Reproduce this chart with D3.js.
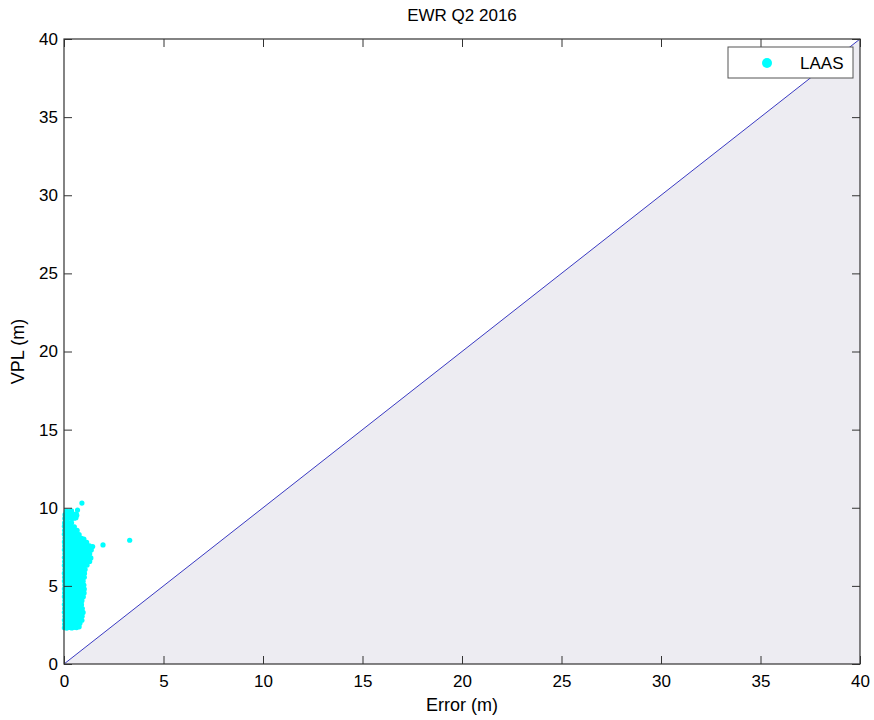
<!DOCTYPE html>
<html>
<head>
<meta charset="utf-8">
<script src="https://cdn.jsdelivr.net/npm/d3@7"></script>
<style>
  html, body { margin: 0; padding: 0; background: #fff; }
  svg { display: block; font-family: "Liberation Sans", Arial, sans-serif; }
</style>
</head>
<body>
<svg id="chart" width="874" height="720"></svg>
<script>
// Chart text
const title = "EWR Q2 2016";
const xLabel = "Error (m)";
const yLabel = "VPL (m)";
const seriesName = "LAAS";

// Axis domains and ticks
const xDomain = [0, 40];
const yDomain = [0, 40];
const xTicks = [0, 5, 10, 15, 20, 25, 30, 35, 40];
const yTicks = [0, 5, 10, 15, 20, 25, 30, 35, 40];

// LAAS samples: [vertical error (m), VPL (m)]
const laasPoints = [
  [0.02,2.32],[0.14,2.30],[0.27,2.34],[0.39,2.31],[0.51,2.35],[0.63,2.33],[0.76,2.38],
  [0.03,2.56],[0.16,2.54],[0.28,2.58],[0.40,2.55],[0.52,2.60],[0.64,2.57],[0.80,2.61],
  [0.02,2.81],[0.13,2.79],[0.25,2.83],[0.38,2.80],[0.50,2.84],[0.62,2.82],[0.75,2.85],[0.90,2.80],
  [0.04,3.06],[0.15,3.04],[0.27,3.08],[0.39,3.05],[0.51,3.09],[0.63,3.06],[0.76,3.10],[0.91,3.05],
  [0.02,3.31],[0.14,3.29],[0.26,3.33],[0.38,3.30],[0.50,3.34],[0.62,3.31],[0.74,3.35],[0.86,3.32],[0.96,3.30],
  [0.03,3.56],[0.16,3.54],[0.28,3.58],[0.40,3.55],[0.52,3.59],[0.64,3.56],[0.77,3.60],[0.92,3.55],
  [0.02,3.81],[0.14,3.79],[0.26,3.83],[0.38,3.80],[0.50,3.84],[0.62,3.81],[0.74,3.85],[0.88,3.80],
  [0.04,4.06],[0.15,4.04],[0.27,4.08],[0.39,4.05],[0.51,4.09],[0.63,4.06],[0.75,4.10],[0.90,4.05],
  [0.02,4.31],[0.14,4.29],[0.26,4.33],[0.38,4.30],[0.50,4.34],[0.62,4.31],[0.74,4.35],[0.86,4.32],[0.97,4.30],
  [0.03,4.56],[0.16,4.54],[0.28,4.58],[0.40,4.55],[0.52,4.59],[0.64,4.56],[0.77,4.60],[0.89,4.57],[1.01,4.55],
  [0.02,4.81],[0.14,4.79],[0.26,4.83],[0.38,4.80],[0.50,4.84],[0.62,4.81],[0.74,4.85],[0.87,4.82],[1.02,4.80],
  [0.04,5.06],[0.15,5.04],[0.27,5.08],[0.39,5.05],[0.51,5.09],[0.63,5.06],[0.75,5.10],[0.88,5.07],[1.00,5.05],
  [0.02,5.31],[0.14,5.29],[0.26,5.33],[0.38,5.30],[0.50,5.34],[0.62,5.31],[0.74,5.35],[0.86,5.32],[0.96,5.30],
  [0.03,5.56],[0.16,5.54],[0.28,5.58],[0.40,5.55],[0.52,5.59],[0.64,5.56],[0.77,5.60],[0.89,5.57],[1.02,5.55],
  [0.02,5.81],[0.14,5.79],[0.26,5.83],[0.38,5.80],[0.50,5.84],[0.62,5.81],[0.74,5.85],[0.87,5.82],[1.03,5.80],
  [0.04,6.06],[0.15,6.04],[0.27,6.08],[0.39,6.05],[0.51,6.09],[0.63,6.06],[0.75,6.10],[0.88,6.07],[1.06,6.05],
  [0.02,6.31],[0.14,6.29],[0.26,6.33],[0.38,6.30],[0.50,6.34],[0.62,6.31],[0.74,6.35],[0.87,6.32],[1.00,6.30],[1.16,6.33],
  [0.03,6.56],[0.16,6.54],[0.28,6.58],[0.40,6.55],[0.52,6.59],[0.64,6.56],[0.77,6.60],[0.89,6.57],[1.02,6.55],[1.15,6.58],[1.29,6.56],
  [0.02,6.81],[0.14,6.79],[0.26,6.83],[0.38,6.80],[0.50,6.84],[0.62,6.81],[0.74,6.85],[0.87,6.82],[1.00,6.80],[1.12,6.84],[1.24,6.81],[1.35,6.79],
  [0.04,7.06],[0.15,7.04],[0.27,7.08],[0.39,7.05],[0.51,7.09],[0.63,7.06],[0.75,7.10],[0.88,7.07],[1.01,7.05],[1.14,7.08],[1.29,7.05],
  [0.02,7.31],[0.14,7.29],[0.26,7.33],[0.38,7.30],[0.50,7.34],[0.62,7.31],[0.74,7.35],[0.87,7.32],[1.00,7.30],[1.12,7.34],[1.24,7.31],[1.37,7.30],
  [0.03,7.56],[0.16,7.54],[0.28,7.58],[0.40,7.55],[0.52,7.59],[0.64,7.56],[0.77,7.60],[0.89,7.57],[1.02,7.55],[1.15,7.58],[1.28,7.56],[1.44,7.52],
  [0.02,7.81],[0.14,7.79],[0.26,7.83],[0.38,7.80],[0.50,7.84],[0.62,7.81],[0.74,7.85],[0.87,7.82],[1.00,7.80],[1.14,7.78],
  [0.04,8.06],[0.15,8.04],[0.27,8.08],[0.39,8.05],[0.51,8.09],[0.63,8.06],[0.75,8.10],[0.88,8.04],[1.00,8.00],
  [0.02,8.31],[0.14,8.29],[0.26,8.33],[0.38,8.30],[0.50,8.34],[0.62,8.31],[0.76,8.28],
  [0.03,8.56],[0.16,8.54],[0.28,8.58],[0.40,8.55],[0.52,8.59],[0.66,8.55],
  [0.02,8.81],[0.14,8.79],[0.26,8.83],[0.38,8.80],[0.52,8.78],
  [0.03,9.03],[0.15,9.05],[0.27,9.02],[0.38,9.04],
  [0.04,9.32],[0.16,9.30],[0.28,9.34],[0.40,9.31],[0.52,9.33],[0.60,9.36],
  [0.05,9.56],[0.17,9.54],[0.29,9.58],[0.41,9.55],[0.53,9.57],[0.62,9.60],
  [0.12,9.78],[0.25,9.76],[0.38,9.80],
  [0.64,9.52],[0.68,9.85],[0.90,10.30],
  [1.96,7.62],[3.30,7.92]
];

const svg = d3.select("#chart");
const margin = { left: 64, top: 39, right: 14, bottom: 56 };
const W = 874, H = 720;
const plotW = W - margin.left - margin.right;
const plotH = H - margin.top - margin.bottom;

const x = d3.scaleLinear().domain(xDomain).range([margin.left, margin.left + plotW]);
const y = d3.scaleLinear().domain(yDomain).range([margin.top + plotH, margin.top]);

// Region below the 1:1 line (error exceeds VPL)
svg.append("path")
  .attr("d", d3.line()([[x(0), y(0)], [x(40), y(0)], [x(40), y(40)]]))
  .attr("fill", "#edecf2")
  .attr("stroke", "none");

// 1:1 reference line
svg.append("line")
  .attr("x1", x(0)).attr("y1", y(0))
  .attr("x2", x(40)).attr("y2", y(40))
  .attr("stroke", "#3a3ac2")
  .attr("stroke-width", 1);

// LAAS samples
svg.append("g")
  .selectAll("circle")
  .data(laasPoints)
  .join("circle")
  .attr("cx", d => x(d[0]))
  .attr("cy", d => y(d[1]))
  .attr("r", 2.6)
  .attr("fill", "#00ffff");

// Axes with inward ticks on all four sides
const tickLen = 8;
const fontSize = 17;
const axisColor = "#333";

function styleAxis(g) {
  g.select(".domain").remove();
  g.selectAll(".tick line").attr("stroke", axisColor);
  g.selectAll(".tick text").attr("fill", "#000").style("font-size", fontSize + "px");
}

svg.append("g")
  .attr("transform", `translate(0,${y(0)})`)
  .call(d3.axisBottom(x).tickValues(xTicks).tickSizeInner(-tickLen).tickSizeOuter(0).tickPadding(11).tickFormat(d3.format("d")))
  .call(styleAxis);

svg.append("g")
  .attr("transform", `translate(0,${y(40)})`)
  .call(d3.axisTop(x).tickValues(xTicks).tickSizeInner(-tickLen).tickSizeOuter(0).tickFormat(""))
  .call(styleAxis);

svg.append("g")
  .attr("transform", `translate(${x(0)},0)`)
  .call(d3.axisLeft(y).tickValues(yTicks).tickSizeInner(-tickLen).tickSizeOuter(0).tickPadding(6).tickFormat(d3.format("d")))
  .call(styleAxis);

svg.append("g")
  .attr("transform", `translate(${x(40)},0)`)
  .call(d3.axisRight(y).tickValues(yTicks).tickSizeInner(-tickLen).tickSizeOuter(0).tickFormat(""))
  .call(styleAxis);

// Box frame
svg.append("rect")
  .attr("x", x(0)).attr("y", y(40))
  .attr("width", x(40) - x(0)).attr("height", y(0) - y(40))
  .attr("fill", "none")
  .attr("stroke", axisColor)
  .attr("stroke-width", 1.2);

// Title and axis labels
svg.append("text")
  .attr("x", (x(0) + x(40)) / 2).attr("y", 21)
  .attr("text-anchor", "middle")
  .style("font-size", "17px")
  .text(title);

svg.append("text")
  .attr("x", (x(0) + x(40)) / 2).attr("y", 711)
  .attr("text-anchor", "middle")
  .style("font-size", "18px")
  .text(xLabel);

svg.append("text")
  .attr("transform", `translate(24,${(y(0) + y(40)) / 2}) rotate(-90)`)
  .attr("text-anchor", "middle")
  .style("font-size", "18px")
  .text(yLabel);

// Legend
const legend = svg.append("g").attr("transform", "translate(728,47)");
legend.append("rect")
  .attr("width", 125).attr("height", 31)
  .attr("fill", "#fff")
  .attr("stroke", "#555")
  .attr("stroke-width", 1);
legend.append("circle")
  .attr("cx", 39).attr("cy", 16).attr("r", 5)
  .attr("fill", "#00ffff");
legend.append("text")
  .attr("x", 72).attr("y", 22)
  .style("font-size", "17px")
  .text(seriesName);
</script>
</body>
</html>
